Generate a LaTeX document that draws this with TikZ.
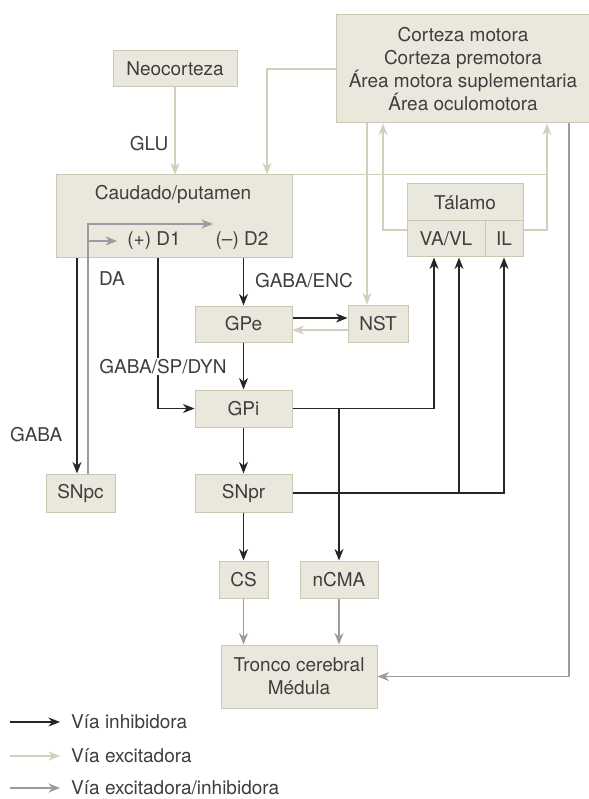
\documentclass[tikz,border=0pt]{standalone}
\usepackage{fontspec}
\setmainfont{TeX Gyre Heros}
\usetikzlibrary{arrows.meta,positioning}

\tikzstyle{caja} = [draw=borde, fill=fondo, rectangle, inner sep=0pt, line width=1pt, text=texto]
\tikzstyle{etiq} = [text=texto, inner sep=1pt]

\begin{document}
\begin{tikzpicture}[x=1pt,y=-1pt,node distance=84.5pt,font=\fontsize{19}{23.3}\selectfont]
\definecolor{fondo}{RGB}{234,232,221}
\definecolor{borde}{RGB}{202,199,180}
\definecolor{texto}{RGB}{62,62,62}
\definecolor{clara}{RGB}{210,207,189}
\definecolor{gris}{RGB}{155,155,162}
\colorlet{oscura}{black!85}
\tikzstyle{inh}=[-{Stealth[length=11.5pt,width=9pt,inset=3.5pt]},oscura,line width=1.2pt]
\tikzstyle{exc}=[inh,clara,line width=1.5pt]
\tikzstyle{mix}=[inh,gris]

\fill[white] (0,0) rectangle (588,799);
\useasboundingbox (0,0) rectangle (588,799);

\node[caja,minimum width=254pt,minimum height=108pt,align=center] (corteza) at (463,69) {Corteza motora\\Corteza premotora\\Área motora suplementaria\\Área oculomotora};
\node[caja,minimum width=124pt,minimum height=36pt] (neo) at (175,69) {Neocorteza};
\node[caja,minimum width=236pt,minimum height=83pt] (caudado) at (174,216.5) {};
\node[etiq] (cp) at (173,194) {Caudado/putamen};
\node[etiq] (d1) at (154,241) {(+) D1};
\node[etiq] (d2) at (242,241) {(--) D2};
% Tálamo en tres casillas
\node[caja,minimum width=116pt,minimum height=37pt] (talamo) at (465,202.5) {Tálamo};
\node[caja,minimum width=78pt,minimum height=36pt] (vavl) at (446,239) {VA/VL};
\node[caja,minimum width=38pt,minimum height=36pt] (il) at (504,239) {IL};

\node[caja,minimum width=97pt,minimum height=36pt] (gpe) at (243.5,324) {GPe};
\node[caja,minimum width=60pt,minimum height=37pt] (nst) at (378,323.5) {NST};
\node[caja,minimum width=97pt,minimum height=37pt,below of=gpe] (gpi) {GPi};
\node[caja,minimum width=97pt,minimum height=38pt,below of=gpi] (snpr) {SNpr};
\node[caja,minimum width=69pt,minimum height=38pt] (snpc) at (80.5,493) {SNpc};
\node[caja,minimum width=49pt,minimum height=37pt,below of=snpr,node distance=86.5pt] (cs) {CS};
\node[caja,minimum width=78pt,minimum height=37pt] (ncma) at (339,579.5) {nCMA};
\node[caja,minimum width=156pt,minimum height=63pt,align=center] (tronco) at (299,676.5) {Tronco cerebral\\Médula};

% x de las líneas verticales
\coordinate (xgaba) at (77,0);
\coordinate (xda) at (88,0);
\coordinate (xd1) at (158,0);
\coordinate (xd2) at (267,0);
\coordinate (xnst) at (367,0);
\coordinate (xva) at (383,0);
\coordinate (xgpi) at (434,0);
\coordinate (xsn) at (459,0);
\coordinate (xil) at (547,0);
\coordinate (xtr) at (569,0);
\coordinate (da2) at (213,224);

\draw[exc] (neo) -- (neo |- caudado.north) node[etiq,pos=0.64,left=5pt] {GLU};
\draw[exc] (corteza.west) -| (caudado.north -| xd2);
\draw[exc] (corteza.south -| xnst) -- (nst.north -| xnst);
\draw[exc] ([yshift=9pt]vavl.west) -| (corteza.south -| xva);
\draw[exc] ([yshift=9pt]il.east) -| (corteza.south -| xil);
\draw[clara,line width=1.5pt] (caudado.north east) -- (caudado.north east -| xil);
\draw[exc] ([yshift=-6.5pt]nst.west) -- ([yshift=-6.5pt]nst.west -| gpe.east);
\draw[inh] ([yshift=6pt]gpe.east) -- ([yshift=6pt]gpe.east -| nst.west);

% dopamina desde SNpc
\draw[mix] (snpc.north -| xda) |- (da2);
\draw[mix] (xda |- d1) -- ([xshift=-9pt]d1.west);
\node[etiq] (da) at (112,279) {DA};

\draw[inh] (caudado.south -| xgaba) -- (snpc.north -| xgaba) node[etiq,pos=0.82,left=13pt] {GABA};
\draw[inh] (caudado.south -| xd1) |- (gpi.west) node[etiq,fill=white,pos=0.36,xshift=5pt] {GABA/SP/DYN};
\draw[inh] (caudado.south -| gpe) -- (gpe) node[etiq,pos=0.46,right=10pt] {GABA/ENC};
\draw[inh] (gpe) -- (gpi);
\draw[inh] (gpi) -- (snpr);
\draw[inh] (snpr) -- (cs);

\draw[inh] (gpi.east) -| (vavl.south -| xgpi);
\draw[inh] (gpi.east -| ncma) -- (ncma);
\draw[inh] (snpr.east) -| (il.south);
\draw[inh] (snpr.east -| xsn) -- (vavl.south -| xsn);

\draw[mix] (cs) -- (cs |- tronco.north);
\draw[mix] (ncma) -- (ncma |- tronco.north);
\draw[mix] (corteza.south -| xtr) |- (tronco.east);

% leyenda
\node[etiq,anchor=west] (ley1) at (70,722) {Vía inhibidora};
\node[etiq,anchor=west] (ley2) at (70,756) {Vía excitadora};
\node[etiq,anchor=west] (ley3) at (70,788) {Vía excitadora/inhibidora};
\draw[inh] ([xshift=-60pt]ley1.west) -- ([xshift=-10pt]ley1.west);
\draw[exc] ([xshift=-60pt]ley2.west) -- ([xshift=-10pt]ley2.west);
\draw[mix] ([xshift=-60pt]ley3.west) -- ([xshift=-10pt]ley3.west);
\end{tikzpicture}
\end{document}
